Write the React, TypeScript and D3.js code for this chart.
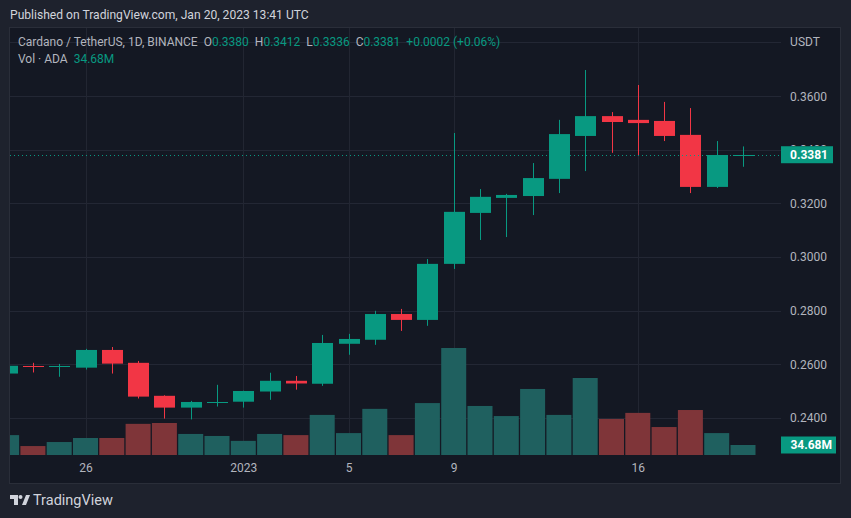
import React from "react";
import * as d3 from "d3";

const dates = [
  "2022-12-23","2022-12-24","2022-12-25","2022-12-26","2022-12-27","2022-12-28","2022-12-29",
  "2022-12-30","2022-12-31","2023-01-01","2023-01-02","2023-01-03","2023-01-04","2023-01-05",
  "2023-01-06","2023-01-07","2023-01-08","2023-01-09","2023-01-10","2023-01-11","2023-01-12",
  "2023-01-13","2023-01-14","2023-01-15","2023-01-16","2023-01-17","2023-01-18","2023-01-19","2023-01-20",
];
const opens = [0.2565,0.2594,0.2592,0.2587,0.2653,0.2605,0.2482,0.2438,0.2458,0.2460,0.2498,0.2538,0.2527,0.2676,0.2691,0.2787,0.2765,0.2974,0.3164,0.3220,0.3227,0.3291,0.3451,0.3525,0.3511,0.3507,0.3455,0.3261,0.3380];
const highs = [0.2596,0.2605,0.2601,0.2657,0.2664,0.2612,0.2484,0.2463,0.2523,0.2501,0.2568,0.2556,0.2709,0.2713,0.2799,0.2806,0.2992,0.3462,0.3253,0.3235,0.3350,0.3511,0.3697,0.3540,0.3641,0.3578,0.3555,0.3432,0.3412];
const lows = [0.2562,0.2569,0.2553,0.2580,0.2565,0.2472,0.2397,0.2394,0.2442,0.2438,0.2467,0.2505,0.2519,0.2635,0.2672,0.2724,0.2743,0.2955,0.3063,0.3074,0.3156,0.3238,0.3320,0.3388,0.3376,0.3432,0.3238,0.3257,0.3336];
const closes = [0.2594,0.2592,0.2594,0.2653,0.2602,0.2479,0.2438,0.2459,0.2460,0.2500,0.2538,0.2528,0.2679,0.2694,0.2787,0.2765,0.2974,0.3168,0.3224,0.3231,0.3294,0.3458,0.3525,0.3503,0.3499,0.3451,0.3261,0.3380,0.3381];
const volumes = [69,31,45,59,59,108,111,73,66,49,73,69,139,76,160,69,180,371,170,135,229,139,267,125,146,97,156,76,34.68];

const priceTicks = [0.24,0.26,0.28,0.30,0.32,0.34,0.36,0.38];
const dateTicks = ["2022-12-26","2023-01-01","2023-01-05","2023-01-09","2023-01-16"];
const dateTickLabels = ["26","2023","5","9","16"];

const GREEN = "#089981";
const RED = "#f23645";
const VGREEN = "#1f605f";
const VRED = "#7f3539";
const TXT = "#b2b5be";
const FONT = "Roboto, 'Noto Sans', sans-serif";

export default function App() {
  const left = 10, right = 781, top = 28, bottom = 455;
  const parse = (s: string) => new Date(s + "T00:00:00Z");
  const x = d3.scaleUtc()
    .domain([parse("2022-12-26"), parse("2023-01-20")])
    .range([85.5, 743]);
  const y = d3.scaleLinear().domain([0.24, 0.36]).range([417.8, 96]);
  const vy = d3.scaleLinear().domain([0, 371]).range([bottom, 348]);
  const step = x(parse("2022-12-27")) - x(parse("2022-12-26"));
  const bodyW = 21;
  const volW = step - 1.3;
  const last = closes[closes.length - 1];
  const lastY = y(last);
  const fmt = d3.format(".4f");

  return (
    <svg width={851} height={518} style={{ position: "absolute", left: 0, top: 0, display: "block" }} fontFamily={FONT}>
      <rect x={0} y={0} width={851} height={518} fill="#1e222d" />
      <text x={10} y={19} fontSize={12.1} fill="#d1d4dc">Published on TradingView.com, Jan 20, 2023 13:41 UTC</text>
      <rect x={9.5} y={27.5} width={831} height={456} fill="#141823" stroke="#2a2e39" strokeWidth={1} />
      <defs>
        <clipPath id="plot">
          <rect x={left} y={top} width={right - left} height={bottom - top} />
        </clipPath>
        <clipPath id="abovebox">
          <rect x={781} y={0} width={60} height={lastY - 8.5} />
        </clipPath>
      </defs>
      {/* grid */}
      {priceTicks.map((p) => (
        <line key={"g" + p} x1={left} x2={right} y1={Math.round(y(p)) + 0.5} y2={Math.round(y(p)) + 0.5} stroke="#232734" strokeWidth={1} />
      ))}
      {dateTicks.map((d) => (
        <line key={"v" + d} x1={Math.round(x(parse(d))) + 0.5} x2={Math.round(x(parse(d))) + 0.5} y1={top} y2={bottom} stroke="#222632" strokeWidth={1} />
      ))}
      <g clipPath="url(#plot)">
        {/* volume */}
        {dates.map((d, i) => {
          const cx = x(parse(d));
          const up = closes[i] >= opens[i];
          return (
            <rect key={"vol" + i} x={cx - volW / 2} y={vy(volumes[i])} width={volW} height={bottom - vy(volumes[i])} fill={up ? VGREEN : VRED} />
          );
        })}
        {/* candles */}
        {dates.map((d, i) => {
          const cx = Math.round(x(parse(d)));
          const up = closes[i] >= opens[i];
          const c = up ? GREEN : RED;
          const yt = y(Math.max(opens[i], closes[i]));
          const yb = y(Math.min(opens[i], closes[i]));
          const h = Math.max(1, yb - yt);
          return (
            <g key={"c" + i}>
              <line x1={cx + 0.5} x2={cx + 0.5} y1={y(highs[i])} y2={y(lows[i])} stroke={c} strokeWidth={1} />
              <rect x={cx - bodyW / 2 + 0.5} y={h < 2 ? Math.round(yt) : yt} width={bodyW} height={h < 2 ? 1 : h} fill={c} />
            </g>
          );
        })}
        {/* last price line */}
        <line x1={left} x2={right} y1={Math.round(lastY) + 0.5} y2={Math.round(lastY) + 0.5} stroke={GREEN} strokeWidth={1} strokeDasharray="1 3" />
      </g>
      {/* price axis labels */}
      {priceTicks.filter((p) => p < 0.37 && Math.abs(p - last) > 0.003).map((p) => (
        <text key={"pt" + p} x={827} y={y(p) + 4.5} fontSize={12} fill={TXT} textAnchor="end">{fmt(p)}</text>
      ))}
      {/* the 0.3400 label is mostly hidden behind the last-price tag */}
      <g clipPath="url(#abovebox)">
        <text x={827} y={y(0.34) + 4.5} fontSize={12} fill={TXT} textAnchor="end">{fmt(0.34)}</text>
      </g>
      <text x={805} y={45.5} fontSize={12} fill={TXT} textAnchor="middle">USDT</text>
      {/* last price label */}
      <rect x={781} y={lastY - 8.5} width={52} height={17} fill={GREEN} />
      <text x={828} y={lastY + 4.5} fontSize={12} fill="#ffffff" textAnchor="end" fontWeight="bold">{fmt(last)}</text>
      {/* volume label */}
      <rect x={781} y={vy(volumes[volumes.length - 1]) - 8.5} width={55} height={17} fill={GREEN} />
      <text x={832} y={vy(volumes[volumes.length - 1]) + 4.5} fontSize={12} fill="#ffffff" textAnchor="end" fontWeight="bold">34.68M</text>
      {/* date axis labels */}
      {dateTicks.map((d, i) => (
        <text key={"dt" + d} x={x(parse(d)) + 0.5} y={472} fontSize={12} fill={TXT} textAnchor="middle">{dateTickLabels[i]}</text>
      ))}
      {/* legend */}
      <text x={18} y={46} fontSize={12} fill="#b2b5be">
        <tspan>Cardano / TetherUS, 1D, BINANCE</tspan>
        <tspan dx={6}>O</tspan><tspan fill={GREEN}>0.3380</tspan>
        <tspan dx={6}>H</tspan><tspan fill={GREEN}>0.3412</tspan>
        <tspan dx={6}>L</tspan><tspan fill={GREEN}>0.3336</tspan>
        <tspan dx={6}>C</tspan><tspan fill={GREEN}>0.3381</tspan>
        <tspan dx={6} fill={GREEN}>+0.0002 (+0.06%)</tspan>
      </text>
      <text x={18} y={63} fontSize={12} fill="#b2b5be">
        <tspan>Vol · ADA</tspan>
        <tspan dx={6} fill={GREEN}>34.68M</tspan>
      </text>
      {/* TradingView logo */}
      <g fill="#d1d4dc">
        <path d="M10 495 h8 v10 h-4 v-6 h-4 z" />
        <circle cx={20.5} cy={497} r={2} />
        <path d="M22 505 l4 -10 h4 l-4 10 z" />
      </g>
      <text x={33} y={505} fontSize={14.5} fill="#d1d4dc">TradingView</text>
    </svg>
  );
}
